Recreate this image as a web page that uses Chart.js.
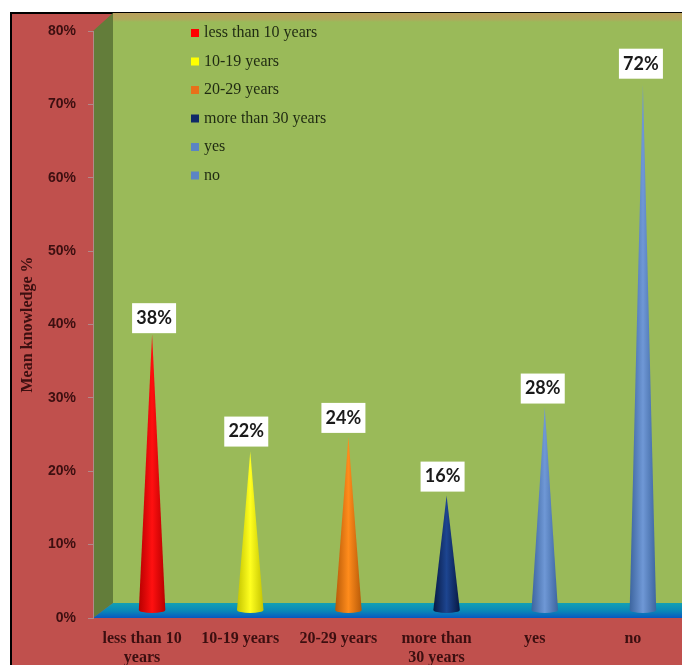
<!DOCTYPE html>
<html>
<head>
<meta charset="utf-8">
<title>Mean knowledge</title>
<script src="https://cdn.jsdelivr.net/npm/chart.js@4"></script>
<style>
    html, body { margin: 0; padding: 0; background: #fff; overflow: hidden; }
    #wrap { width: 682px; height: 665px; }
</style>
</head>
<body>
<div id="wrap"><canvas id="chart"></canvas></div>
<script>
// Data
const categories = ['less than 10 years', '10-19 years', '20-29 years', 'more than 30 years', 'yes', 'no'];
const tickLabels = [['less than 10', 'years'], '10-19 years', '20-29 years', ['more than', '30 years'], 'yes', 'no'];
const knowledge = [38, 22, 24, 16, 28, 72];

// edge, middle colours of each cone
const coneEdge = ['#b80000', '#c4c400', '#b85a08', '#081a44', '#3d659f', '#3d659f'];
const coneMid = ['#ff1010', '#ffff20', '#ff8c1c', '#1d4590', '#6f98d6', '#6f98d6'];
const legendColors = ['#ff0000', '#ffff00', '#e8701a', '#0f2a68', '#5b84c4', '#5b84c4'];

// the value boxes were placed by hand in the original, nudge them the same way
const boxNudgeX = [12, 6, 5, 6, 8, 8];
const boxNudgeY = [-21, -25, -24, -24, -24, -26];

const RED = '#c0504d';
const INK = '#3c0f10';
// depth of the fake 3D box, front plane to back wall
const DEPTH_X = 20;
const DEPTH_Y = 15;

function polygon(ctx, pts, fill) {
    ctx.beginPath();
    pts.forEach((p, i) => i ? ctx.lineTo(p[0], p[1]) : ctx.moveTo(p[0], p[1]));
    ctx.closePath();
    ctx.fillStyle = fill;
    ctx.fill();
}

// frame, walls and floor behind the cones
const box3d = {
    id: 'box3d',
    beforeDraw(chart) {
        const ctx = chart.ctx;
        const { left, right, top, bottom } = chart.chartArea;
        ctx.save();
        ctx.fillStyle = '#fff';
        ctx.fillRect(0, 0, chart.width, chart.height);
        ctx.fillStyle = '#000';
        ctx.fillRect(10, 12, chart.width - 10, chart.height - 12);
        ctx.fillStyle = RED;
        ctx.fillRect(12, 14, chart.width - 12, chart.height - 14);

        const backL = left + DEPTH_X;
        const backB = bottom - DEPTH_Y;
        const backT = top - DEPTH_Y - 3;
        polygon(ctx, [[backL, backT], [right, backT], [right, backB], [backL, backB]], '#9aba59');
        // tan band along the top of the wall
        const band = ctx.createLinearGradient(0, backT, 0, backT + 9);
        band.addColorStop(0, '#b9a05c');
        band.addColorStop(0.7, '#b0a85c');
        band.addColorStop(1, '#9aba59');
        polygon(ctx, [[backL, backT], [right, backT], [right, backT + 9], [backL, backT + 9]], band);
        polygon(ctx, [[left, top], [backL, backT], [backL, backB], [left, bottom]], '#637d3a');

        const floor = ctx.createLinearGradient(0, backB, 0, bottom);
        floor.addColorStop(0, '#12a0b4');
        floor.addColorStop(0.55, '#0a86b8');
        floor.addColorStop(1, '#0a58c0');
        polygon(ctx, [[backL, backB], [right, backB], [right, bottom], [left, bottom]], floor);
        ctx.restore();
    }
};

// cones instead of flat bars, sized from the bar elements
const cones = {
    id: 'cones',
    beforeDatasetDraw(chart, args) {
        const ctx = chart.ctx;
        args.meta.data.forEach((bar, i) => {
            const p = bar.getProps(['x', 'y', 'base', 'width'], true);
            const cx = p.x + DEPTH_X / 2;
            const baseY = p.base - DEPTH_Y / 2;
            const tipY = p.y - 5;
            const r = p.width / 2;
            const g = ctx.createLinearGradient(cx - r, 0, cx + r, 0);
            g.addColorStop(0, coneEdge[i]);
            g.addColorStop(0.5, coneMid[i]);
            g.addColorStop(1, coneEdge[i]);
            ctx.save();
            ctx.beginPath();
            ctx.moveTo(cx, tipY);
            ctx.lineTo(cx + r, baseY);
            ctx.ellipse(cx, baseY, r, 3, 0, 0, Math.PI);
            ctx.closePath();
            ctx.fillStyle = g;
            ctx.fill();
            ctx.restore();
        });
        return false;
    }
};

// white value boxes and the legend on the back wall
const overlays = {
    id: 'overlays',
    afterDatasetsDraw(chart) {
        const ctx = chart.ctx;
        const meta = chart.getDatasetMeta(0);
        ctx.save();
        ctx.textBaseline = 'middle';

        meta.data.forEach((bar, i) => {
            const cx = bar.x + boxNudgeX[i];
            const cy = bar.y + boxNudgeY[i];
            ctx.fillStyle = '#fff';
            ctx.fillRect(cx - 22, cy - 15, 44, 30);
            ctx.fillStyle = '#1a1a1a';
            ctx.font = 'bold 18px Lato, "Open Sans", sans-serif';
            ctx.textAlign = 'center';
            ctx.fillText(knowledge[i] + '%', cx, cy);
        });

        ctx.textAlign = 'left';
        categories.forEach((name, i) => {
            const y = 33 + i * 28.5;
            ctx.fillStyle = legendColors[i];
            ctx.fillRect(191, y - 4, 8, 8);
            ctx.fillStyle = '#1f2a12';
            ctx.font = '16px "Liberation Serif", serif';
            ctx.fillText(name, 204, y);
        });
        ctx.restore();
    }
};

new Chart(document.getElementById('chart'), {
    type: 'bar',
    data: {
        labels: tickLabels,
        datasets: [{ data: knowledge, backgroundColor: coneMid, barPercentage: 0.27, categoryPercentage: 1 }]
    },
    plugins: [box3d, cones, overlays],
    options: {
        responsive: true,
        maintainAspectRatio: false,
        animation: false,
        layout: { padding: { top: 31 } },
        plugins: { legend: { display: false }, tooltip: { enabled: false } },
        scales: {
            x: {
                afterFit: scale => { scale.height = 47; },
                grid: { display: false },
                border: { display: false },
                ticks: {
                    color: INK,
                    maxRotation: 0,
                    autoSkip: false,
                    padding: 3,
                    font: { family: '"Liberation Serif", serif', size: 16, weight: 'bold', lineHeight: 1.2 }
                }
            },
            y: {
                min: 0,
                max: 80,
                afterFit: scale => { scale.width = 93; },
                grid: { drawOnChartArea: false, color: '#b08a8a', tickLength: 5 },
                border: { color: '#b08a8a' },
                title: {
                    display: true,
                    text: 'Mean knowledge %',
                    color: INK,
                    padding: { top: 18, bottom: 0 },
                    font: { family: '"Liberation Serif", serif', size: 16, weight: 'bold' }
                },
                ticks: {
                    stepSize: 10,
                    padding: 12,
                    color: INK,
                    callback: v => v + '%',
                    font: { family: '"Liberation Sans", Arial, sans-serif', size: 14, weight: 'bold' }
                }
            }
        }
    }
});
</script>
</body>
</html>
